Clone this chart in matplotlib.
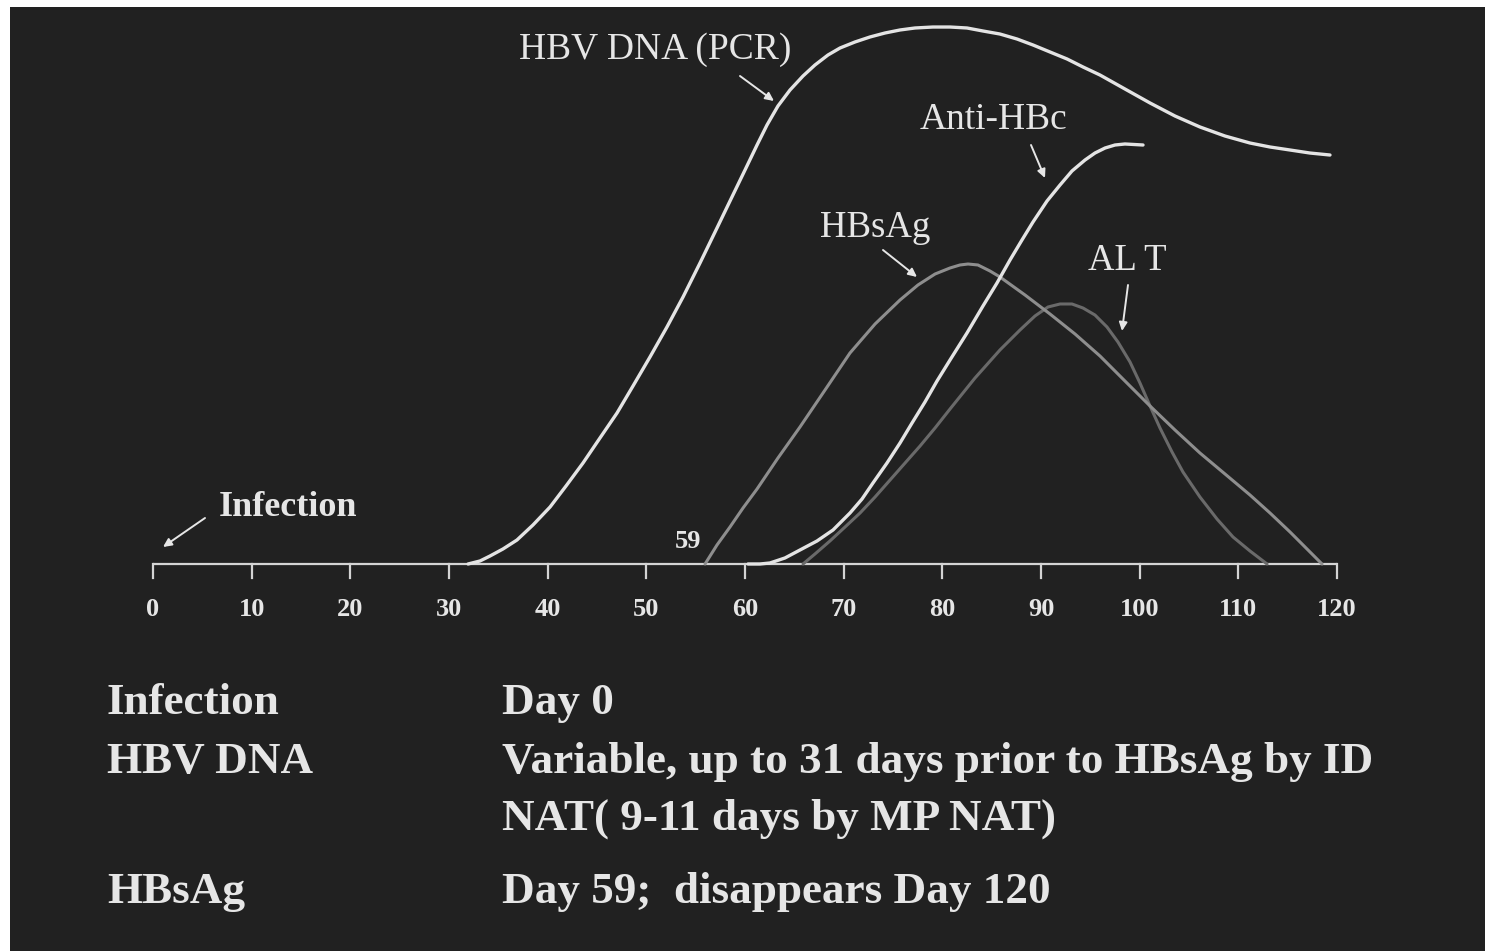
import matplotlib
matplotlib.use("Agg")
import matplotlib.pyplot as plt
from matplotlib.patches import Rectangle, FancyArrowPatch

# ---------------- data (day, relative level; 100 = HBV DNA peak) ----------------
dna_days = [31.93, 33.14, 34.16, 35.47, 36.89, 38.51, 40.24, 41.86, 43.58, 45.30,
            47.03, 48.65, 50.37, 52.09, 53.72, 55.44, 57.16, 58.48, 60.00, 61.22,
            62.23, 63.34, 64.56, 65.88, 67.09, 68.41, 69.63, 71.15, 72.67, 74.19,
            75.71, 77.23, 79.05, 80.78, 82.50, 84.12, 85.84, 87.57, 89.19, 90.91,
            92.64, 94.26, 95.98, 98.51, 101.05, 103.58, 106.11, 108.65, 111.18,
            113.21, 115.24, 117.26, 119.29]
dna_level = [0.00, 0.56, 1.49, 2.79, 4.46, 7.25, 10.59, 14.50, 18.77, 23.42,
             28.07, 33.09, 38.48, 44.05, 49.63, 55.95, 62.45, 67.47, 73.23, 77.88,
             81.60, 85.13, 88.10, 90.71, 92.75, 94.61, 95.91, 97.03, 97.96, 98.70,
             99.26, 99.63, 99.81, 99.81, 99.63, 99.07, 98.51, 97.58, 96.47, 95.17,
             93.87, 92.38, 90.89, 88.29, 85.69, 83.27, 81.23, 79.55, 78.25,
             77.51, 76.95, 76.39, 76.02]

antihbc_days = [60.30, 61.52, 62.53, 64.05, 65.57, 67.30, 68.92, 70.64, 71.86, 72.97,
                74.39, 75.71, 76.93, 78.24, 79.46, 80.78, 82.50, 84.12, 85.54, 86.86,
                88.07, 89.19, 90.61, 91.93, 93.14, 94.46, 95.47, 96.49, 97.50, 98.51,
                100.34]
antihbc_level = [0.00, 0.00, 0.19, 1.12, 2.60, 4.28, 6.32, 9.48, 12.08, 15.06,
                 18.77, 22.49, 26.21, 30.11, 34.01, 37.92, 42.94, 47.96, 52.23, 56.51,
                 60.22, 63.57, 67.47, 70.45, 73.05, 75.09, 76.39, 77.32, 77.88, 78.07,
                 77.88]

hbsag_days = [55.95, 57.16, 58.48, 59.80, 61.22, 63.34, 65.57, 68.11, 70.64, 73.18,
              75.71, 77.53, 79.26, 80.78, 81.79, 82.60, 83.61, 84.83, 85.84, 88.38,
              90.91, 93.45, 95.98, 98.51, 101.05, 103.58, 106.11, 108.65, 111.18,
              113.21, 115.24, 116.76, 118.48]
hbsag_level = [0.00, 3.53, 6.88, 10.41, 13.94, 19.70, 25.46, 32.34, 39.22, 44.61,
               49.07, 51.86, 53.90, 55.02, 55.58, 55.76, 55.58, 54.46, 53.35, 50.00,
               46.47, 42.75, 38.66, 34.01, 29.37, 24.91, 20.63, 16.73, 12.83,
               9.48, 5.95, 3.16, 0.00]

alt_days = [65.88, 67.09, 68.61, 70.14, 71.66, 73.18, 74.70, 76.22, 77.74, 79.26,
            80.78, 83.31, 85.84, 87.87, 89.39, 90.71, 91.93, 93.14, 94.26, 95.47,
            96.69, 97.80, 99.02, 100.03, 101.05, 102.06, 103.28, 104.39, 106.11,
            107.84, 109.46, 111.18, 112.91]
alt_level = [0.00, 1.86, 4.28, 6.88, 9.48, 12.45, 15.61, 18.77, 21.93, 25.28,
             28.81, 34.57, 39.78, 43.49, 46.10, 47.77, 48.33, 48.33, 47.58, 46.28,
             44.05, 41.26, 37.55, 33.64, 29.37, 25.28, 20.82, 17.10, 12.45,
             8.36, 5.02, 2.42, 0.00]

tick_days = [0, 10, 20, 30, 40, 50, 60, 70, 80, 90, 100, 110, 120]

table_labels = ["Infection", "HBV DNA", "", "HBsAg"]
table_texts = ["Day 0",
               "Variable, up to 31 days prior to HBsAg by ID",
               "NAT( 9-11 days by MP NAT)",
               "Day 59;  disappears Day 120"]

# ---------------- layout ----------------
W, H = 1485, 951
BG = "#212121"
FG = "#e6e6e6"
X0_PX, X120_PX, AXIS_PY = 153, 1337, 564
PX_PER_DAY = (X120_PX - X0_PX) / 120.0
PX_PER_UNIT = 5.38

def P(px, py):
    return (px / W, 1 - py / H)

fig = plt.figure(figsize=(W / 100, H / 100), dpi=100)
fig.patch.set_facecolor("white")
fig.add_artist(Rectangle((10 / W, 0), (W - 10) / W, (H - 7) / H,
                         transform=fig.transFigure, facecolor=BG,
                         edgecolor="none", zorder=0))

ax = fig.add_axes([0, 0, 1, 1])
ax.set_facecolor("none")
ax.axis("off")
ax.set_xlim(-X0_PX / PX_PER_DAY, (W - X0_PX) / PX_PER_DAY)
ax.set_ylim(-(H - AXIS_PY) / PX_PER_UNIT, AXIS_PY / PX_PER_UNIT)

serif = ["Liberation Serif", "DejaVu Serif"]

# axis line and ticks
ax.plot([tick_days[0], tick_days[-1]], [0, 0], color="#d4d4d4", lw=1.6,
        solid_capstyle="butt", zorder=2)
tick_len = 14 / PX_PER_UNIT
for d in tick_days:
    ax.plot([d, d], [0, -tick_len], color="#d4d4d4", lw=1.6, zorder=2)
    ax.text(d, -46 / PX_PER_UNIT, str(d), ha="center", va="center",
            fontsize=19, fontweight="bold", family=serif, color=FG)

# curves
style = dict(solid_joinstyle="round", solid_capstyle="round")
ax.plot(alt_days, alt_level, color="#6a6a6a", lw=2.2, zorder=3, **style)
ax.plot(hbsag_days, hbsag_level, color="#8e8e8e", lw=2.2, zorder=4, **style)
ax.plot(antihbc_days, antihbc_level, color="#e4e4e4", lw=2.4, zorder=5, **style)
ax.plot(dna_days, dna_level, color="#e4e4e4", lw=2.4, zorder=5, **style)

# curve labels
def label(txt, px, py, size=27, weight="normal"):
    fig.text(*P(px, py), txt, ha="center", va="center", fontsize=size,
             fontweight=weight, family=serif, color=FG)

label("HBV DNA (PCR)", 655, 50)
label("Anti-HBc", 993, 120)
label("HBsAg", 875, 228, size=26.5)
label("AL T", 1127, 261, size=26.5)
label("Infection", 288, 507, size=26, weight="bold")
label("59", 688, 542, size=19, weight="bold")

# arrows
def arrow(p_from, p_to):
    fig.add_artist(FancyArrowPatch(
        P(*p_from), P(*p_to), transform=fig.transFigure,
        arrowstyle="-|>,head_length=5,head_width=2.4", color=FG, lw=1.4,
        shrinkA=0, shrinkB=0, zorder=6))

arrow((205, 518), (163, 547))
arrow((740, 76), (774, 101))
arrow((1031, 145), (1045, 178))
arrow((883, 250), (917, 277))
arrow((1128, 285), (1122, 331))

# bottom table
label_baselines = [714, 773, 830, 903]
for lab, txt, by in zip(table_labels, table_texts, label_baselines):
    if lab:
        fig.text(*P(107, by), lab, ha="left", va="baseline", fontsize=32.5,
                 fontweight="bold", family=serif, color=FG)
    fig.text(*P(502, by), txt, ha="left", va="baseline", fontsize=32.5,
             fontweight="bold", family=serif, color=FG)

fig.savefig("out.png", dpi=100, facecolor=fig.get_facecolor())
